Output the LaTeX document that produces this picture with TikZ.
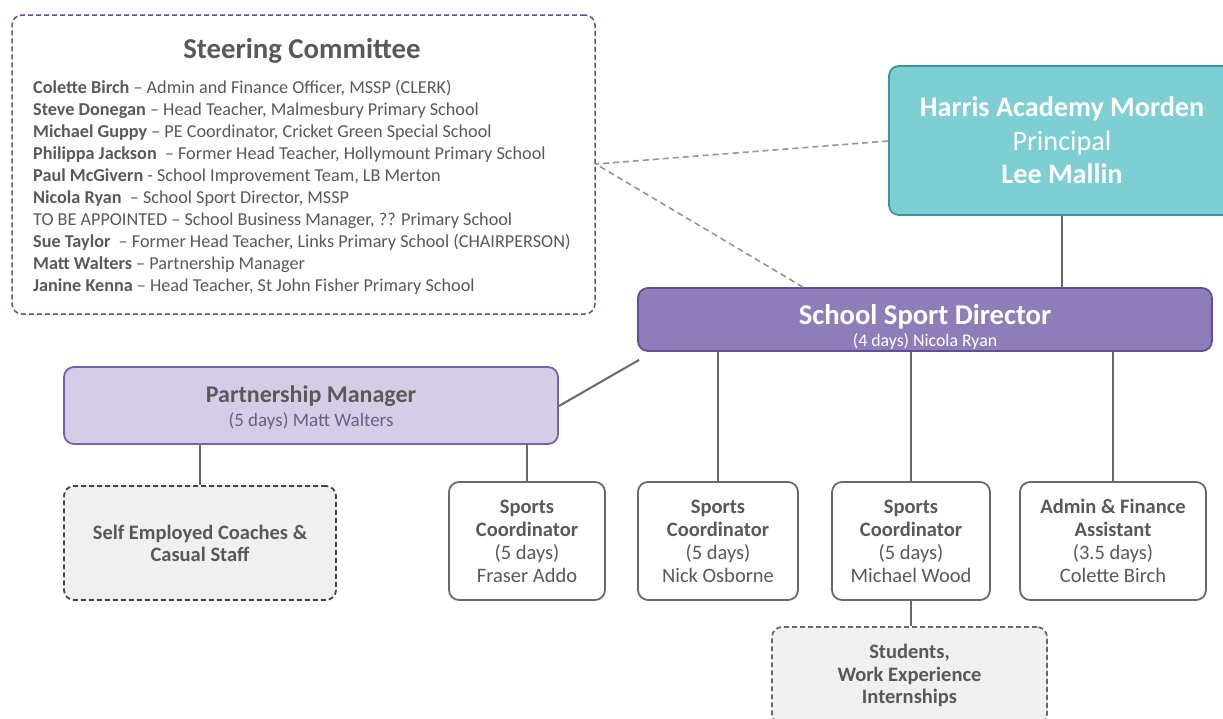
\documentclass[tikz,border=0pt]{standalone}
\usepackage{fontspec}
\setmainfont{Carlito}
\definecolor{txtgray}{RGB}{89,89,89}
\definecolor{linegray}{RGB}{105,105,105}
\definecolor{dashgray}{RGB}{150,150,150}
\definecolor{tealfill}{RGB}{125,207,212}
\definecolor{tealline}{RGB}{55,150,158}
\definecolor{ssdfill}{RGB}{143,125,186}
\definecolor{ssdline}{RGB}{98,78,148}
\definecolor{pmfill}{RGB}{213,205,230}
\definecolor{pmline}{RGB}{118,98,168}
\definecolor{pmsub}{RGB}{105,95,135}
\definecolor{steerline}{RGB}{105,75,155}
\definecolor{pale}{RGB}{240,240,240}
\definecolor{olive}{RGB}{70,70,55}
\newcommand{\fs}[2]{\fontsize{#1}{#2}\selectfont}
\tikzset{
  box/.style={rounded corners=10pt, line width=1.8pt, draw=linegray, fill=white,
    align=center, text=txtgray, inner sep=0pt},
  dashbox/.style={box, fill=pale, dashed, dash pattern=on 5pt off 3pt},
  staff/.style={box, minimum height=118pt, font=\fs{20.5}{23}},
  link/.style={draw=linegray, line width=2pt},
  dlink/.style={draw=dashgray, line width=1.6pt, dash pattern=on 6pt off 4pt},
}
\begin{document}
\begin{tikzpicture}[x=1pt,y=-1pt]
\useasboundingbox (0,0) rectangle (1223,718);
\fill[white] (0,0) rectangle (1223,718);

% steering committee
\node[box, draw=steerline, line width=1.5pt, dash pattern=on 5pt off 3pt,
  minimum width=583pt, minimum height=299pt] (steer) at (303.5,164.5) {};
\node[text=txtgray, font=\bfseries\fs{28.8}{32}] (steertitle) at (302,51) {Steering Committee};
\node[anchor=west, align=left, text=txtgray, inner sep=0pt, font=\fs{18.2}{22}] (steerlist) at (33,187) {%
\textbf{Colette Birch} -- Admin and Finance Officer, MSSP (CLERK)\\
\textbf{Steve Donegan} -- Head Teacher, Malmesbury Primary School\\
\textbf{Michael Guppy} -- PE Coordinator, Cricket Green Special School\\
\textbf{Philippa Jackson} \ -- Former Head Teacher, Hollymount Primary School\\
\textbf{Paul McGivern} - School Improvement Team, LB Merton\\
\textbf{Nicola Ryan} \ -- School Sport Director, MSSP\\
TO BE APPOINTED -- School Business Manager, ?? Primary School\\
\textbf{Sue Taylor} \ -- Former Head Teacher, Links Primary School (CHAIRPERSON)\\
\textbf{Matt Walters} -- Partnership Manager\\
\textbf{Janine Kenna} -- Head Teacher, St John Fisher Primary School};

% top of the hierarchy
\node[box, fill=tealfill, draw=tealline, text=white, minimum width=346pt, minimum height=149pt,
  font=\fs{28.2}{33.5}] (harris) at (1062,140.5)
  {\textbf{Harris Academy Morden}\\Principal\\\textbf{Lee Mallin}};

\node[box, fill=ssdfill, draw=ssdline, minimum width=574pt, minimum height=63pt] (ssd) at (925,319.5) {};
\node[text=white, inner sep=0pt, font=\bfseries\fs{28.6}{30}] (ssdtitle) at (925,317) {School Sport Director};
\node[text=white, inner sep=0pt, font=\fs{17.8}{20}] (ssdsub) at (925,341) {(4 days) Nicola Ryan};

\node[box, fill=pmfill, draw=pmline, minimum width=494pt, minimum height=77pt] (pm) at (311,405.5) {};
\node[text=txtgray, inner sep=0pt, font=\bfseries\fs{24}{26}] (pmtitle) at (311,396) {Partnership Manager};
\node[text=pmsub, inner sep=0pt, font=\fs{19}{21}] (pmsubt) at (311,421) {(5 days) Matt Walters};

% staff
\node[dashbox, draw=olive, minimum width=272pt, minimum height=114pt, font=\bfseries\fs{20.5}{22}]
  (self) at (200,543) {Self Employed Coaches \&\\Casual Staff};
\node[staff, minimum width=156pt] (sc1) at (527,541)
  {\textbf{Sports}\\\textbf{Coordinator}\\(5 days)\\Fraser Addo};
\node[staff, minimum width=160pt] (sc2) at (718,541)
  {\textbf{Sports}\\\textbf{Coordinator}\\(5 days)\\Nick Osborne};
\node[staff, minimum width=158pt] (sc3) at (911,541)
  {\textbf{Sports}\\\textbf{Coordinator}\\(5 days)\\Michael Wood};
\node[staff, minimum width=186pt] (admin) at (1113,541)
  {\textbf{Admin \& Finance}\\\textbf{Assistant}\\(3.5 days)\\Colette Birch};
\node[dashbox, minimum width=275pt, minimum height=97pt, font=\bfseries\fs{20.5}{22.5}]
  (stud) at (909.5,675.5) {Students,\\Work Experience\\Internships};

% connectors
\coordinate (steerjoin) at (steer.east |- 0,164);
\draw[dlink] (harris.west |- 0,141) -- (steerjoin);
\draw[dlink] (ssd.north -| 803,0) -- (steerjoin);
\draw[link] (harris.south) -- (ssd.north -| harris.south);
\coordinate (ssdl) at ([xshift=2pt,yshift=-8pt]ssd.south west);
\draw[link] (ssdl) -- (pm.east |- 0,406);
\draw[link] (pm.south -| self.north) -- (self.north);
\draw[link] (pm.south -| sc1.north) -- (sc1.north);
\draw[link] (ssd.south -| sc2.north) -- (sc2.north);
\draw[link] (ssd.south -| sc3.north) -- (sc3.north);
\draw[link] (ssd.south -| admin.north) -- (admin.north);
\draw[link] (sc3.south) -- (stud.north -| sc3.south);
\end{tikzpicture}
\end{document}
